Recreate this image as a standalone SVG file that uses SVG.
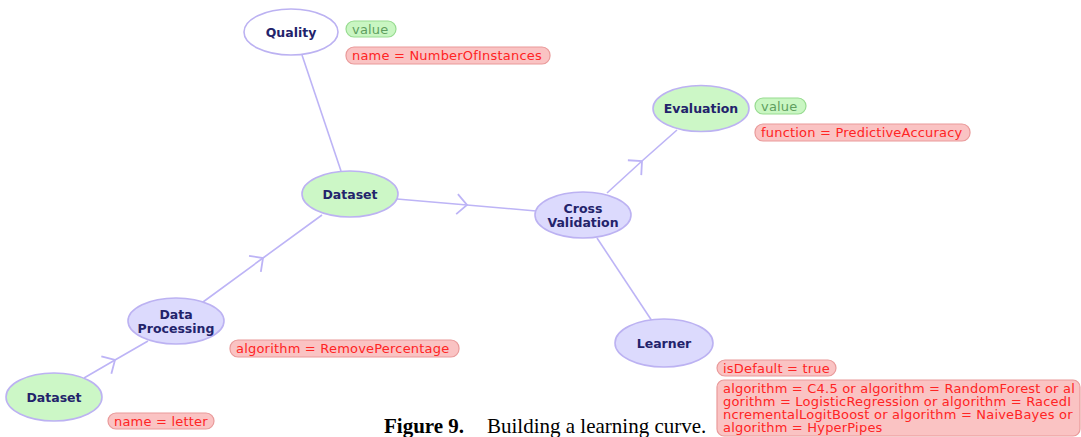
<svg xmlns="http://www.w3.org/2000/svg" width="1081" height="437" viewBox="0 0 1081 437">
  <style>
    .edge { fill: none; stroke: #bdb4f6; stroke-width: 1.6; }
    .node { stroke: #bcb2f2; stroke-width: 1.6; }
    .ds { fill: #ccf7c6; }
    .op { fill: #dcdafd; }
    .plain { fill: #ffffff; }
    .lbl { font-family: "DejaVu Sans", Verdana, sans-serif; font-weight: bold; font-size: 12.5px; fill: #23236b; text-anchor: middle; }
    .tagR rect { fill: #fac3c3; stroke: #e99a9a; stroke-width: 1.2; }
    .tagR text { font-family: "DejaVu Sans", Verdana, sans-serif; font-size: 13px; letter-spacing: 0.2px; fill: #ff2424; }
    .tagG rect { fill: #c9f6c2; stroke: #97db90; stroke-width: 1.2; }
    .tagG text { font-family: "DejaVu Sans", Verdana, sans-serif; font-size: 13px; letter-spacing: 0.2px; fill: #5f9e5f; }
    .cap { font-family: "Liberation Serif", "Times New Roman", serif; font-size: 21px; fill: #000; }
  </style>
  <defs>
    <marker id="chev" markerUnits="userSpaceOnUse" markerWidth="24" markerHeight="24" viewBox="-12 -12 24 24" refX="0" refY="0" orient="auto" overflow="visible">
      <path d="M -10 -10 L 0 0 L -10 10" fill="none" stroke="#bdb4f6" stroke-width="1.8"/>
    </marker>
  </defs>

  <!-- connectors -->
  <g id="connectors">
    <path class="edge" d="M 302 55 L 341 171"/>
    <path class="edge" d="M 84 378 L 115 360 L 148 341" marker-mid="url(#chev)"/>
    <path class="edge" d="M 203 302 L 263 258 L 322 215" marker-mid="url(#chev)"/>
    <path class="edge" d="M 397 199 L 467 205 L 536 211" marker-mid="url(#chev)"/>
    <path class="edge" d="M 607 193 L 642 161 L 677 130" marker-mid="url(#chev)"/>
    <path class="edge" d="M 597 238 L 652 321"/>
  </g>

  <!-- nodes -->
  <g id="quality">
    <ellipse class="node plain" cx="291" cy="32" rx="47" ry="23"/>
    <text class="lbl" x="291" y="36.5">Quality</text>
    <g class="tagG"><rect x="346" y="21" width="50" height="16" rx="8"/><text x="352" y="33.5">value</text></g>
    <g class="tagR"><rect x="346" y="47" width="204" height="17" rx="8"/><text x="352" y="60">name = NumberOfInstances</text></g>
  </g>

  <g id="dataset-mid">
    <ellipse class="node ds" cx="350" cy="194" rx="48" ry="23"/>
    <text class="lbl" x="350" y="198.5">Dataset</text>
  </g>

  <g id="cross-validation">
    <ellipse class="node op" cx="583" cy="215" rx="48" ry="23"/>
    <text class="lbl" x="583" y="212.5">Cross</text>
    <text class="lbl" x="583" y="227">Validation</text>
  </g>

  <g id="evaluation">
    <ellipse class="node ds" cx="701" cy="108.5" rx="48" ry="23"/>
    <text class="lbl" x="701" y="113">Evaluation</text>
    <g class="tagG"><rect x="755" y="98" width="51" height="16" rx="8"/><text x="761" y="110.5">value</text></g>
    <g class="tagR"><rect x="755" y="124" width="215" height="17" rx="8"/><text x="761" y="137">function = PredictiveAccuracy</text></g>
  </g>

  <g id="data-processing">
    <ellipse class="node op" cx="176" cy="321" rx="48" ry="23"/>
    <text class="lbl" x="176" y="318.5">Data</text>
    <text class="lbl" x="176" y="333">Processing</text>
    <g class="tagR"><rect x="230" y="340" width="229" height="17" rx="8"/><text x="236" y="353">algorithm = RemovePercentage</text></g>
  </g>

  <g id="dataset-source">
    <ellipse class="node ds" cx="54" cy="397" rx="48" ry="24"/>
    <text class="lbl" x="54" y="401.5">Dataset</text>
    <g class="tagR"><rect x="108" y="413" width="106" height="16" rx="8"/><text x="114" y="425.5">name = letter</text></g>
  </g>

  <g id="learner">
    <ellipse class="node op" cx="664" cy="343" rx="49" ry="24"/>
    <text class="lbl" x="664" y="347.5">Learner</text>
    <g class="tagR"><rect x="717" y="360" width="119" height="16" rx="8"/><text x="723" y="372.5">isDefault = true</text></g>
    <g class="tagR">
      <rect x="717" y="380" width="363" height="56" rx="7"/>
      <text x="723" y="392.5">algorithm = C4.5 or algorithm = RandomForest or al</text>
      <text x="723" y="405.5">gorithm = LogisticRegression or algorithm = RacedI</text>
      <text x="723" y="418.5">ncrementalLogitBoost or algorithm = NaiveBayes or</text>
      <text x="723" y="431.5">algorithm = HyperPipes</text>
    </g>
  </g>

  <!-- caption -->
  <text class="cap" x="384" y="433"><tspan font-weight="bold">Figure 9.</tspan><tspan x="487">Building a learning curve.</tspan></text>
</svg>
